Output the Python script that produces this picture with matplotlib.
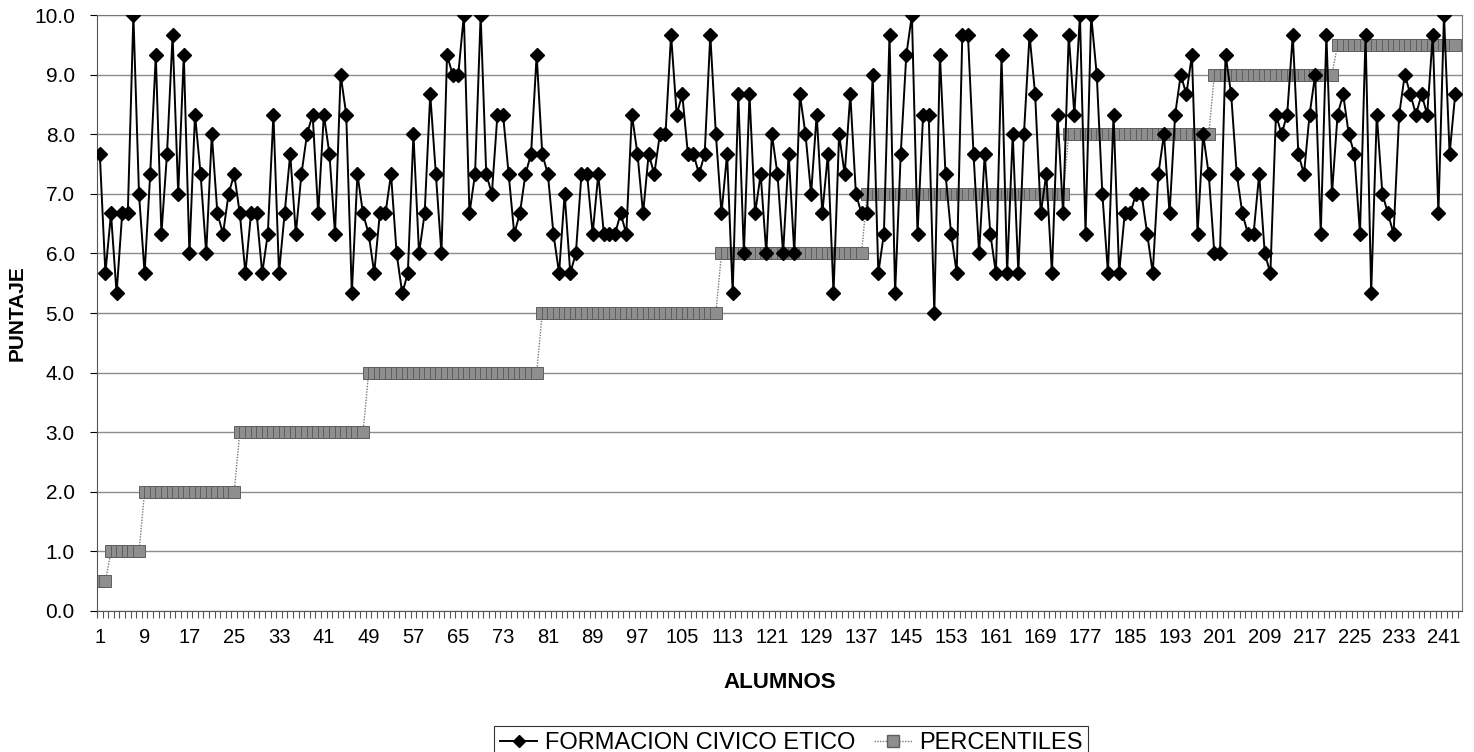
import matplotlib
matplotlib.use("Agg")
import matplotlib.pyplot as plt
from matplotlib.lines import Line2D
import numpy as np

plt.rcParams['font.family'] = ['Liberation Sans', 'DejaVu Sans']

# puntajes por alumno
civico = [
    7.67, 5.67, 6.67, 5.33, 6.67, 6.67, 10.0, 7.0, 5.67, 7.33,
    9.33, 6.33, 7.67, 9.67, 7.0, 9.33, 6.0, 8.33, 7.33, 6.0,
    8.0, 6.67, 6.33, 7.0, 7.33, 6.67, 5.67, 6.67, 6.67, 5.67,
    6.33, 8.33, 5.67, 6.67, 7.67, 6.33, 7.33, 8.0, 8.33, 6.67,
    8.33, 7.67, 6.33, 9.0, 8.33, 5.33, 7.33, 6.67, 6.33, 5.67,
    6.67, 6.67, 7.33, 6.0, 5.33, 5.67, 8.0, 6.0, 6.67, 8.67,
    7.33, 6.0, 9.33, 9.0, 9.0, 10.0, 6.67, 7.33, 10.0, 7.33,
    7.0, 8.33, 8.33, 7.33, 6.33, 6.67, 7.33, 7.67, 9.33, 7.67,
    7.33, 6.33, 5.67, 7.0, 5.67, 6.0, 7.33, 7.33, 6.33, 7.33,
    6.33, 6.33, 6.33, 6.67, 6.33, 8.33, 7.67, 6.67, 7.67, 7.33,
    8.0, 8.0, 9.67, 8.33, 8.67, 7.67, 7.67, 7.33, 7.67, 9.67,
    8.0, 6.67, 7.67, 5.33, 8.67, 6.0, 8.67, 6.67, 7.33, 6.0,
    8.0, 7.33, 6.0, 7.67, 6.0, 8.67, 8.0, 7.0, 8.33, 6.67,
    7.67, 5.33, 8.0, 7.33, 8.67, 7.0, 6.67, 6.67, 9.0, 5.67,
    6.33, 9.67, 5.33, 7.67, 9.33, 10.0, 6.33, 8.33, 8.33, 5.0,
    9.33, 7.33, 6.33, 5.67, 9.67, 9.67, 7.67, 6.0, 7.67, 6.33,
    5.67, 9.33, 5.67, 8.0, 5.67, 8.0, 9.67, 8.67, 6.67, 7.33,
    5.67, 8.33, 6.67, 9.67, 8.33, 10.0, 6.33, 10.0, 9.0, 7.0,
    5.67, 8.33, 5.67, 6.67, 6.67, 7.0, 7.0, 6.33, 5.67, 7.33,
    8.0, 6.67, 8.33, 9.0, 8.67, 9.33, 6.33, 8.0, 7.33, 6.0,
    6.0, 9.33, 8.67, 7.33, 6.67, 6.33, 6.33, 7.33, 6.0, 5.67,
    8.33, 8.0, 8.33, 9.67, 7.67, 7.33, 8.33, 9.0, 6.33, 9.67,
    7.0, 8.33, 8.67, 8.0, 7.67, 6.33, 9.67, 5.33, 8.33, 7.0,
    6.67, 6.33, 8.33, 9.0, 8.67, 8.33, 8.67, 8.33, 9.67, 6.67,
    10.0, 7.67, 8.67,
]

# niveles de percentil y cuantos alumnos caen en cada uno
niveles = [0.5, 1.0, 2.0, 3.0, 4.0, 5.0, 6.0, 7.0, 8.0, 9.0, 9.5]
conteos = [2, 6, 17, 23, 31, 32, 26, 36, 26, 22, 22]

percentiles = np.repeat(niveles, conteos)
alumnos = np.arange(1, len(civico) + 1)

fig = plt.figure(figsize=(14.74, 7.52), dpi=100)
ax = fig.add_axes([0.0658, 0.1875, 0.926, 0.7925])

ax.plot(alumnos, percentiles, color='#7a7a7a', lw=1, ls=(0, (1, 1)),
        marker='s', markersize=8, markerfacecolor='#8e8e8e',
        markeredgecolor='#5e5e5e', markeredgewidth=0.7, zorder=2)
ax.plot(alumnos, civico, color='black', lw=1.4, marker='D', markersize=7.3,
        markerfacecolor='black', markeredgecolor='black', zorder=3)

ax.set_xlim(0.59, 244.2)
ax.set_ylim(0, 10)
ax.set_yticks(np.arange(0, 10.5, 1.0))
ax.set_yticklabels([f'{v:.1f}' for v in np.arange(0, 10.5, 1.0)])
ax.set_xticks(np.arange(1, 244, 8))
ax.set_xticks(np.arange(0.5, 244, 1), minor=True)
ax.tick_params(axis='x', which='major', length=0, pad=12, labelsize=14.5)
ax.tick_params(axis='x', which='minor', length=5, width=0.8, color='#555555')
ax.tick_params(axis='y', length=5, labelsize=15, pad=11)

ax.grid(axis='y', color='#8c8c8c', lw=1)
ax.set_axisbelow(True)
for side in ['top', 'right']:
    ax.spines[side].set_linestyle((0, (1, 1)))
    ax.spines[side].set_color('#777777')
ax.spines['left'].set_color('#555555')
ax.spines['bottom'].set_color('#555555')

ax.set_xlabel('ALUMNOS', fontsize=16, fontweight='bold', labelpad=18)
ax.set_ylabel('PUNTAJE', fontsize=15, fontweight='bold', labelpad=5)

handles = [
    Line2D([], [], color='black', lw=1.4, marker='D', markersize=6),
    Line2D([], [], color='#7a7a7a', lw=1, ls=(0, (1, 1)), marker='s',
           markersize=8, markerfacecolor='#8e8e8e', markeredgecolor='#5e5e5e'),
]
leg = fig.legend(handles, ['FORMACION CIVICO ETICO', 'PERCENTILES'],
                 loc='upper center', bbox_to_anchor=(0.5366, 0.05), ncol=2,
                 fontsize=17, frameon=True, fancybox=False, edgecolor='black',
                 handlelength=1.6, handletextpad=0.3, columnspacing=0.8,
                 borderpad=0.25)
leg.get_frame().set_linewidth(0.8)

fig.savefig('out.png', dpi=100)
